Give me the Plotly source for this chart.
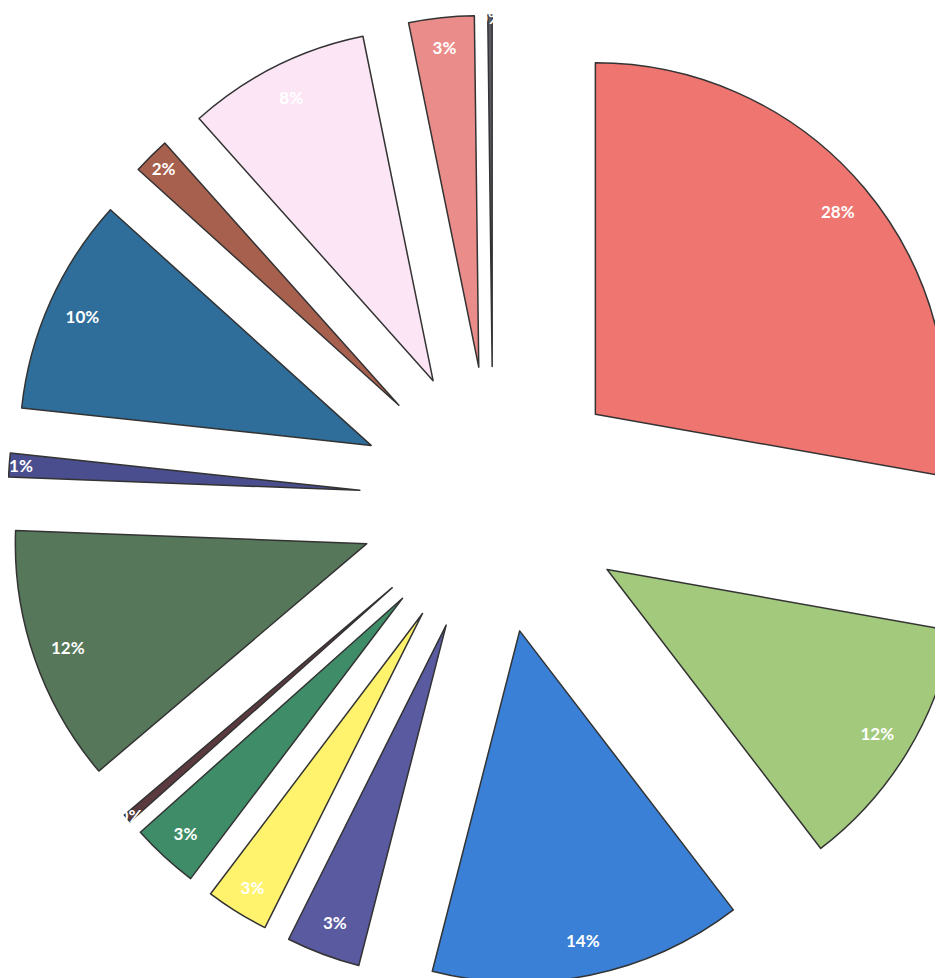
import plotly.graph_objects as go

# Slices in clockwise order starting from 12 o'clock
categories = ["A", "B", "C", "D", "E", "F", "G", "H", "I", "J", "K", "L", "M", "N"]
values = [27.8, 11.8, 14.4, 3.4, 2.9, 3.1, 0.4, 11.8, 1.1, 10.0, 1.7, 8.4, 3.0, 0.2]
colors = ["#EF7570", "#A3C97D", "#3A80D6", "#5A5AA0", "#FFF36E", "#3F8C68",
          "#5A3A3E", "#56775A", "#4B4E8E", "#2F6E9A", "#A8604E", "#FCE6F6",
          "#EA8C8A", "#5A5A64"]
pulls = [0.38] * len(values)

common = dict(labels=categories, values=values, sort=False, direction="clockwise",
              rotation=0, pull=pulls, showlegend=False)

# coloured wedges
fig = go.Figure(go.Pie(
    **common,
    marker=dict(colors=colors, line=dict(color="#333333", width=1.5)),
    textinfo="none",
    hoverinfo="label+percent",
))

# percentage labels placed towards the outer end of each wedge
fig.add_trace(go.Pie(
    **common,
    hole=0.8,
    marker=dict(colors=["rgba(0,0,0,0)"] * len(values), line=dict(width=0)),
    texttemplate="%{percent:.0%}",
    textposition="inside",
    insidetextorientation="horizontal",
    textfont=dict(family="Lato", size=17, color="white", weight="bold"),
    hoverinfo="skip",
))

fig.update_layout(
    width=970,
    height=984,
    margin=dict(l=0, r=0, t=0, b=0),
    paper_bgcolor="white",
    plot_bgcolor="white",
    uniformtext=dict(minsize=17, mode="show"),
)

fig.write_html("out.html")
